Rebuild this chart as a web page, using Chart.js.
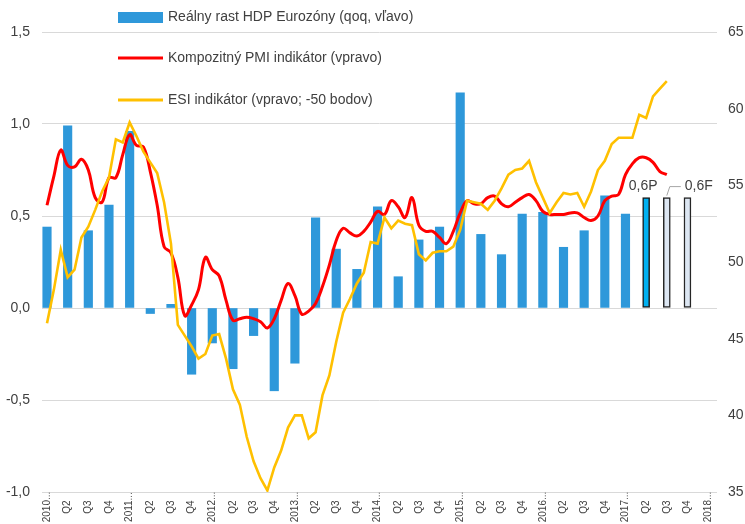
<!DOCTYPE html>
<html>
<head>
<meta charset="utf-8">
<script src="https://cdn.jsdelivr.net/npm/chart.js@4.4.0/dist/chart.umd.min.js"></script>
<style>
    html, body { margin: 0; padding: 0; background: #ffffff; }
    #wrap { width: 745px; height: 524px; }
</style>
</head>
<body>
<div id="wrap"><canvas id="chart" width="745" height="524"></canvas></div>
<script>
// Quarter tick labels (2010 Q1 .. 2018 Q1)
const quarterLabels = [
    '2010...', 'Q2', 'Q3', 'Q4',
    '2011...', 'Q2', 'Q3', 'Q4',
    '2012...', 'Q2', 'Q3', 'Q4',
    '2013...', 'Q2', 'Q3', 'Q4',
    '2014...', 'Q2', 'Q3', 'Q4',
    '2015...', 'Q2', 'Q3', 'Q4',
    '2016...', 'Q2', 'Q3', 'Q4',
    '2017...', 'Q2', 'Q3', 'Q4',
    '2018...'
];

// Real GDP growth, qoq %, 2010 Q1 .. 2017 Q1
const gdpActual = [
    0.44, 0.99, 0.42, 0.56,
    0.96, -0.03, 0.02, -0.36,
    -0.19, -0.33, -0.15, -0.45,
    -0.30, 0.49, 0.32, 0.21,
    0.55, 0.17, 0.37, 0.44,
    1.17, 0.40, 0.29, 0.51,
    0.52, 0.33, 0.42, 0.61,
    0.51
];
// 2017 Q2 preliminary, Q3 and Q4 forecast
const gdpEstimate = [0.6, 0.6, 0.6];
const estimateTags = ['P', 'F', 'F'];

// Monthly, Jan 2010 .. Jul 2017
const pmiComposite = [
    53.7, 55.6, 57.3, 56.3, 56.2, 56.7, 56.0, 54.2, 53.9, 55.5, 55.5, 57.0,
    58.3, 57.6, 57.5, 55.9, 53.7, 51.0, 50.6, 49.0, 46.5, 47.2, 48.2, 50.3,
    49.5, 49.1, 47.5, 46.2, 46.3, 46.4, 46.3, 46.1, 45.7, 46.3, 47.5, 48.6,
    47.8, 46.6, 46.8, 47.3, 48.4, 49.8, 51.4, 52.2, 51.9, 51.7, 52.0, 52.6,
    53.3, 53.1, 54.0, 53.6, 52.9, 54.2, 52.4, 52.0, 52.0, 51.6, 51.2, 52.0,
    53.2, 54.0, 53.8, 53.8, 54.2, 54.3, 53.8, 53.6, 53.9, 54.2, 54.4, 54.0,
    53.3, 53.1, 53.1, 53.1, 53.2, 53.2, 52.9, 52.7, 53.0, 54.0, 54.3, 54.4,
    55.7, 56.4, 56.8, 56.8, 56.5, 55.9, 55.7
];
const esiMinus50 = [
    46.0, 48.2, 50.8, 49.0, 49.5, 51.6, 52.3, 53.4, 54.6, 55.5, 58.0, 57.8,
    59.1, 58.2, 57.2, 56.5, 55.8, 53.9, 51.2, 45.9, 45.2, 44.5, 43.7, 44.0,
    45.2, 45.3, 43.7, 41.7, 40.7, 38.6, 37.0, 35.9, 35.1, 36.6, 37.7, 39.2,
    40.0, 40.0, 38.5, 38.9, 41.3, 42.6, 44.8, 46.7, 47.6, 48.6, 49.3, 51.3,
    51.2, 52.9, 52.2, 52.7, 52.5, 52.4, 50.5, 50.1, 50.6, 50.7, 50.7, 51.0,
    52.1, 54.0, 53.9, 53.8, 53.4, 54.0, 54.8, 55.7, 56.0, 56.1, 56.6, 55.2,
    54.2, 53.2, 53.9, 54.5, 54.4, 54.5, 53.6, 54.6, 56.0, 56.6, 57.7, 58.1,
    58.1, 58.1, 59.6, 59.4, 60.8, 61.3, 61.8
];

const legendLabels = [
    'Reálny rast HDP Eurozóny (qoq, vľavo)',
    'Kompozitný PMI indikátor (vpravo)',
    'ESI indikátor (vpravo; -50 bodov)'
];

const FONT = "'Liberation Sans', Arial, sans-serif";
const TEXT_COLOR = '#404040';
const BAR_BLUE = '#2E98DA';
const PMI_RED = '#FF0000';
const ESI_GOLD = '#FFC000';

// monthly series sit on the quarter axis: one month = 1/3 quarter
const toMonthPoints = arr => arr.map((v, m) => ({ x: m / 3, y: v }));

const estimateStart = gdpActual.length;
const prelimPoints = [];
const forecastPoints = [];
gdpEstimate.forEach((v, k) => {
    const p = { x: estimateStart + k, y: v };
    if (estimateTags[k] === 'P') prelimPoints.push(p); else forecastPoints.push(p);
});

// legend, rotated quarter labels and P/F notes
const overlayPlugin = {
    id: 'overlay',
    afterDraw(chart) {
        const ctx = chart.ctx;
        const xs = chart.scales.x;
        const ys = chart.scales.y;

        // x labels, vertical, centred in the axis band
        ctx.save();
        ctx.fillStyle = TEXT_COLOR;
        ctx.font = '10px ' + FONT;
        ctx.textAlign = 'center';
        ctx.textBaseline = 'middle';
        quarterLabels.forEach((lab, i) => {
            const px = xs.getPixelForValue(i);
            ctx.save();
            ctx.translate(px, 507);
            ctx.rotate(-Math.PI / 2);
            ctx.fillText(lab, 0, 0);
            ctx.restore();
        });
        ctx.restore();

        // legend
        ctx.save();
        ctx.font = '14px ' + FONT;
        ctx.textBaseline = 'middle';
        ctx.textAlign = 'left';
        ctx.fillStyle = BAR_BLUE;
        ctx.fillRect(118, 12, 45, 11);
        ctx.lineWidth = 3;
        ctx.strokeStyle = PMI_RED;
        ctx.beginPath(); ctx.moveTo(118, 58); ctx.lineTo(163, 58); ctx.stroke();
        ctx.strokeStyle = ESI_GOLD;
        ctx.beginPath(); ctx.moveTo(118, 100); ctx.lineTo(163, 100); ctx.stroke();
        ctx.fillStyle = TEXT_COLOR;
        ctx.fillText(legendLabels[0], 168, 17);
        ctx.fillText(legendLabels[1], 168, 58);
        ctx.fillText(legendLabels[2], 168, 100);
        ctx.restore();

        // P / F notes
        ctx.save();
        ctx.font = '14px ' + FONT;
        ctx.fillStyle = TEXT_COLOR;
        ctx.textBaseline = 'middle';
        ctx.textAlign = 'center';
        const pIdx = estimateTags.indexOf('P');
        const fIdx = estimateTags.indexOf('F');
        const pX = xs.getPixelForValue(estimateStart + pIdx);
        const pY = ys.getPixelForValue(gdpEstimate[pIdx]);
        ctx.fillText(String(gdpEstimate[pIdx]).replace('.', ',') + 'P', pX - 3, pY - 11);
        const fX = xs.getPixelForValue(estimateStart + fIdx);
        const fY = ys.getPixelForValue(gdpEstimate[fIdx]);
        ctx.fillText(String(gdpEstimate[fIdx]).replace('.', ',') + 'F', fX + 32, fY - 11);
        ctx.strokeStyle = '#A6A6A6';
        ctx.lineWidth = 1;
        ctx.beginPath();
        ctx.moveTo(fX, fY - 2);
        ctx.lineTo(fX + 3, fY - 11);
        ctx.lineTo(fX + 14, fY - 11);
        ctx.stroke();
        ctx.restore();
    }
};

const ctx = document.getElementById('chart').getContext('2d');
new Chart(ctx, {
    data: {
        datasets: [
            {
                type: 'line',
                label: legendLabels[2],
                data: toMonthPoints(esiMinus50),
                yAxisID: 'y1',
                borderColor: ESI_GOLD,
                borderWidth: 2.6,
                pointRadius: 0,
                tension: 0,
                order: 0,
            },
            {
                type: 'line',
                label: legendLabels[1],
                data: toMonthPoints(pmiComposite),
                yAxisID: 'y1',
                borderColor: PMI_RED,
                borderWidth: 3,
                pointRadius: 0,
                tension: 0.4,
                order: 1,
            },
            {
                type: 'bar',
                label: legendLabels[0],
                data: gdpActual.map((v, i) => ({ x: i, y: v })),
                yAxisID: 'y',
                backgroundColor: BAR_BLUE,
                barThickness: 8.5,
                grouped: false,
                order: 2,
            },
            {
                type: 'bar',
                data: prelimPoints,
                yAxisID: 'y',
                backgroundColor: '#00B0F0',
                borderColor: '#1A1A1A',
                borderWidth: 1.5,
                borderSkipped: false,
                barThickness: 7,
                grouped: false,
                order: 3,
            },
            {
                type: 'bar',
                data: forecastPoints,
                yAxisID: 'y',
                backgroundColor: '#DCE6F2',
                borderColor: '#262626',
                borderWidth: 1.5,
                borderSkipped: false,
                barThickness: 7,
                grouped: false,
                order: 4,
            },
        ],
    },
    options: {
        responsive: false,
        animation: false,
        layout: { padding: { top: 32, left: 0, right: 0, bottom: 0 } },
        plugins: {
            legend: { display: false },
            tooltip: { enabled: false },
        },
        scales: {
            x: {
                type: 'linear',
                min: -0.242,
                max: 32.43,
                offset: false,
                grid: { display: false, offset: false },
                border: { display: false },
                ticks: { display: false },
                afterFit: s => { s.height = 32; },
            },
            y: {
                position: 'left',
                min: -1,
                max: 1.5,
                ticks: {
                    stepSize: 0.5,
                    padding: 12,
                    color: TEXT_COLOR,
                    font: { family: FONT, size: 14 },
                    callback: v => v.toFixed(1).replace('.', ','),
                },
                grid: { color: '#D9D9D9', lineWidth: 1, drawTicks: false },
                border: { display: false },
                afterFit: s => { s.width = 42; },
            },
            y1: {
                position: 'right',
                min: 35,
                max: 65,
                ticks: {
                    stepSize: 5,
                    padding: 11,
                    color: TEXT_COLOR,
                    font: { family: FONT, size: 14 },
                },
                grid: { display: false, drawTicks: false },
                border: { display: false },
                afterFit: s => { s.width = 28; },
            },
        },
    },
    plugins: [overlayPlugin],
});
</script>
</body>
</html>
